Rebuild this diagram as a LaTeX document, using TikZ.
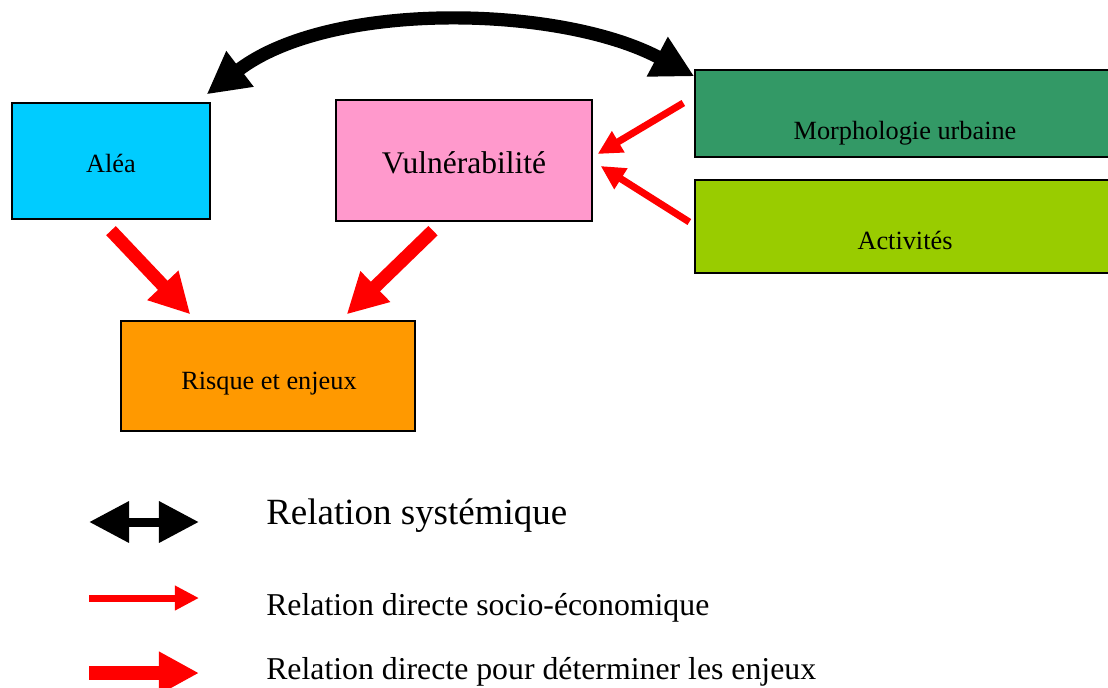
\documentclass[tikz,border=0pt]{standalone}
\usepackage{fontspec}
\setmainfont{Liberation Serif}
\usetikzlibrary{arrows.meta,calc}
\begin{document}
\begin{tikzpicture}[x = 0.025cm, y = -0.025cm,
  box/.style = {draw = black, line width = 0.9pt, inner sep = 0pt},
  txt/.style = {font = \fontsize{18.7}{22}\selectfont, inner sep = 0pt},
  bigred/.style = {draw = red, line width = 0.33cm, -{Triangle[length = 1cm, width = 1cm]}},
  thinred/.style = {draw = red, line width = 0.175cm, -{Triangle[length = 0.6cm, width = 0.58cm]}}]
\useasboundingbox (0,0) rectangle (1108,687);
\definecolor{aleacol}{HTML}{00CCFF}
\definecolor{vulncol}{HTML}{FF99CC}
\definecolor{morphcol}{HTML}{339966}
\definecolor{activcol}{HTML}{99CC00}
\definecolor{risquecol}{HTML}{FF9900}
% boxes
\node[box, fill = aleacol, minimum width = 4.95cm, minimum height = 2.9cm] (alea) at (111,161) {};
\node[box, fill = vulncol, minimum width = 6.4cm, minimum height = 3.025cm] (vuln) at (464,160.5) {};
\node[box, fill = morphcol, minimum width = 10.425cm, minimum height = 2.175cm] (morph) at (903.5,113.5) {};
\node[box, fill = activcol, minimum width = 10.425cm, minimum height = 2.325cm] (activ) at (903.5,226.5) {};
\node[box, fill = risquecol, minimum width = 7.35cm, minimum height = 2.75cm] (risque) at (268,376) {};
\node[txt] (aleatxt) at (111,163) {Aléa};
\node[txt, font = \fontsize{22.4}{26}\selectfont] (vulntxt) at (464,163) {Vulnérabilité};
\node[txt] (morphtxt) at (905,133) {Morphologie urbaine};
\node[txt] (activtxt) at (905,240) {Activités};
\node[txt] (risquetxt) at (269,384) {Risque et enjeux};
% relations
\draw[line width = 0.33cm, {Triangle[length = 1.05cm, width = 1.05cm]}-{Triangle[length = 1.05cm, width = 1.05cm]}]
  ($(alea.north east)+(-4,-8)$) .. controls (330,0) and (560,5) .. ($(morph.north west)+(0,7)$);
\draw[thinred] ($(morph.west)+(-11,-10.5)$) -- ($(vuln.east)+(5,-6.5)$);
\draw[thinred] ($(activ.west)+(-5,-4.5)$) -- ($(vuln.east)+(8,5.5)$);
\draw[bigred] ($(alea.south)+(0,11)$) -- ($(risque.north west)+(70,-6)$);
\draw[bigred] ($(vuln.south)+(-31,9)$) -- ($(risque.north east)+(-69,-6)$);
% legend
\coordinate (sysa) at (89,522);
\coordinate (sysb) at (199,522);
\coordinate (soca) at (89,598);
\coordinate (socb) at (199,598);
\coordinate (enja) at (89,673);
\coordinate (enjb) at (199,673);
\draw[line width = 0.225cm, {Triangle[length = 1cm, width = 0.98cm]}-{Triangle[length = 1cm, width = 0.98cm]}] (sysa) -- (sysb);
\draw[thinred] (soca) -- (socb);
\draw[bigred] (enja) -- (enjb);
\node[txt, anchor = west, font = \fontsize{26.3}{30}\selectfont] (systxt) at (266,516) {Relation systémique};
\node[txt, anchor = west, font = \fontsize{22.6}{26}\selectfont] (soctxt) at (266,608) {Relation directe socio-économique};
\node[txt, anchor = west, font = \fontsize{22.6}{26}\selectfont] (enjtxt) at (266,672) {Relation directe pour déterminer les enjeux};
\end{tikzpicture}
\end{document}
